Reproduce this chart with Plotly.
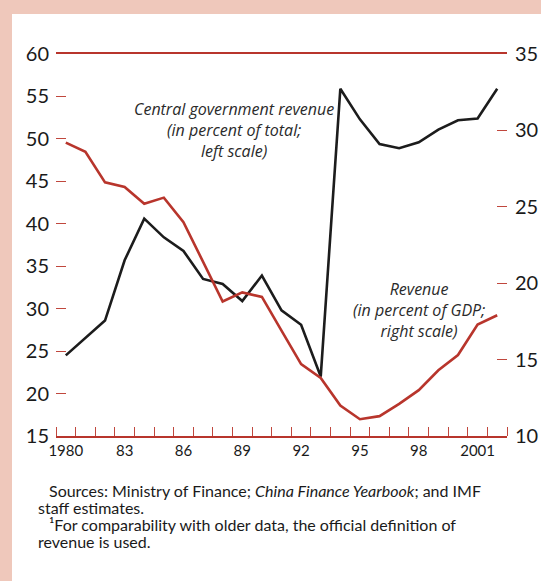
import plotly.graph_objects as go

years = list(range(1980, 2003))
central_share = [24.5, 26.6, 28.6, 35.7, 40.6, 38.4, 36.8, 33.5, 32.9, 30.9, 33.9, 29.8, 28.1, 22.0,
                 55.9, 52.3, 49.4, 48.9, 49.6, 51.1, 52.2, 52.4, 55.9]
revenue_gdp = [29.2, 28.6, 26.6, 26.3, 25.2, 25.6, 24.0, 21.4, 18.8, 19.4, 19.1, 16.9, 14.7, 13.8,
               12.0, 11.1, 11.3, 12.1, 13.0, 14.3, 15.3, 17.3, 17.9]
left_ticks = [15, 20, 25, 30, 35, 40, 45, 50, 55, 60]
right_ticks = [10, 15, 20, 25, 30, 35]
xlabel_vals = [1980, 1983, 1986, 1989, 1992, 1995, 1998, 2001]
xlabel_text = ["1980", "83", "86", "89", "92", "95", "98", "2001"]

RED = "#b8352c"
TICKRED = "#c0473d"
PINK = "#efc8bb"
FONT = "Lato"
TEXTFONT = "Open Sans"

fig = go.Figure()
fig.add_trace(go.Scatter(x=years, y=revenue_gdp, mode="lines", yaxis="y2",
                         line=dict(color=RED, width=2.6), showlegend=False))
fig.add_trace(go.Scatter(x=years, y=central_share, mode="lines", yaxis="y",
                         line=dict(color="#1c1c1c", width=2.6), showlegend=False))

L, R, T, B = 56, 34, 54, 144.5
W, H = 541 - L - R, 581 - T - B

fig.update_layout(
    width=541, height=581,
    margin=dict(l=L, r=R, t=T, b=B, pad=0, autoexpand=False),
    paper_bgcolor=PINK, plot_bgcolor="rgba(0,0,0,0)",
    font=dict(family=FONT, color="#1a1a1a"),
    xaxis=dict(range=[1979.5, 2002.5], showgrid=False, zeroline=False, automargin=False,
               showline=True, mirror=True, linecolor=RED, linewidth=1.5,
               tickmode="array", tickvals=xlabel_vals, ticktext=xlabel_text,
               ticks="", tickfont=dict(size=15, family=FONT, color="#1a1a1a"),
               minor=dict(ticks="inside", ticklen=9, tickcolor=TICKRED, tickwidth=1.3,
                          tick0=1979.5, dtick=1, showgrid=False)),
    yaxis=dict(range=[15, 60], showgrid=False, zeroline=False, showline=False, automargin=False,
               tickmode="array", tickvals=left_ticks, ticks="inside", ticklen=10,
               tickcolor=TICKRED, tickwidth=1.3,
               tickfont=dict(size=20, family=FONT, color="#1a1a1a"),
               ticklabelstandoff=6),
    yaxis2=dict(range=[10, 35], overlaying="y", side="right", showgrid=False, automargin=False,
                zeroline=False, showline=False,
                tickmode="array", tickvals=right_ticks, ticks="inside", ticklen=10,
                tickcolor=TICKRED, tickwidth=1.3,
                tickfont=dict(size=20, family=FONT, color="#1a1a1a"),
                ticklabelstandoff=7),
)

def px_x(p):
    return (p - L) / W

def px_y(p):
    return (581 - B - p) / H

fig.add_shape(type="rect", xref="paper", yref="paper",
              x0=px_x(12), x1=px_x(560), y0=px_y(600), y1=px_y(14),
              fillcolor="white", line=dict(width=0), layer="below")

ann_font = dict(family=TEXTFONT, size=16, color="#2a2a2a")
fig.add_annotation(x=1988.6, y=51.1, xref="x", yref="y",
                   text="<i>Central government revenue<br>(in percent of total;<br>left scale)</i>",
                   showarrow=False, font=ann_font, align="center")
fig.add_annotation(x=1998.0, y=29.9, xref="x", yref="y",
                   text="<i>Revenue<br>(in percent of GDP;<br>right scale)</i>",
                   showarrow=False, font=ann_font, align="center")

foot_font = dict(family=FONT, size=16, color="#1a1a1a")
foot_lines = [
    (47, 491, "Sources: Ministry of Finance; <i>China Finance Yearbook</i>; and IMF"),
    (36, 508, "staff estimates."),
    (47, 525, "¹For comparability with older data, the official definition of"),
    (36, 542, "revenue is used."),
]
for xp, yp, txt in foot_lines:
    fig.add_annotation(x=px_x(xp), y=px_y(yp), xref="paper", yref="paper",
                       xanchor="left", yanchor="middle", text=txt,
                       showarrow=False, font=foot_font, align="left")

fig.write_html("out.html", config={"displayModeBar": False},
               post_script="document.body.style.margin='0';document.body.style.overflow='hidden';")
